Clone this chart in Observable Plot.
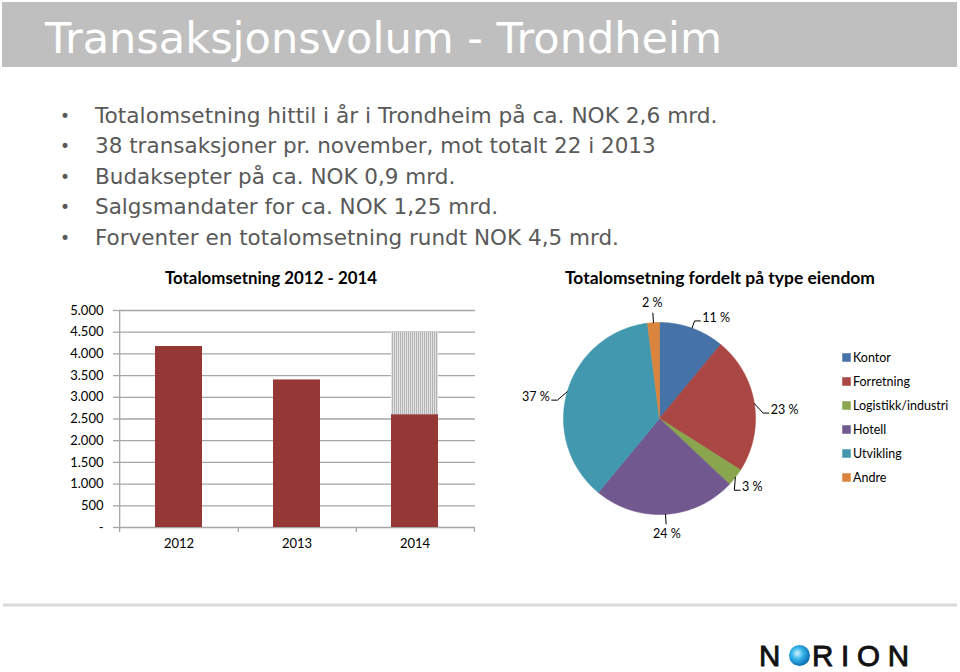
<!DOCTYPE html>
<html><head><meta charset="utf-8">
<script src="https://cdn.jsdelivr.net/npm/d3@7"></script>
<script src="https://cdn.jsdelivr.net/npm/@observablehq/plot@0.6"></script>
<style>
html,body{margin:0;padding:0;background:#fff;}
#page{position:relative;width:960px;height:672px;overflow:hidden;background:#fff;}
.abs{position:absolute;}
</style></head><body>
<div id="page">
<svg id="deco" class="abs" style="left:0;top:0" width="960" height="672"></svg>
<div id="bar" class="abs" style="left:0;top:290px"></div>
<div id="pie" class="abs" style="left:500px;top:290px"></div>
<div id="legend" class="abs" style="left:838px;top:345px"></div>
</div>
<script>
// ---------- data ----------
const pageTitle = "Transaksjonsvolum - Trondheim";
const bullets = [
  "Totalomsetning hittil i år i Trondheim på ca. NOK 2,6 mrd.",
  "38 transaksjoner pr. november, mot totalt 22 i 2013",
  "Budaksepter på ca. NOK 0,9 mrd.",
  "Salgsmandater for ca. NOK 1,25 mrd.",
  "Forventer en totalomsetning rundt NOK 4,5 mrd."
];
const barTitle = "Totalomsetning 2012 - 2014";
const pieTitle = "Totalomsetning fordelt på type eiendom";
const years = ["2012", "2013", "2014"];
const totals = [4170, 3400, 2600];
const forecastYear = "2014";
const forecastTotal = 4500;
const yTicks = [0, 500, 1000, 1500, 2000, 2500, 3000, 3500, 4000, 4500, 5000];
const yTickLabels = ["-", "500", "1.000", "1.500", "2.000", "2.500", "3.000", "3.500", "4.000", "4.500", "5.000"];
const segments = ["Kontor", "Forretning", "Logistikk/industri", "Hotell", "Utvikling", "Andre"];
const shares = [11, 23, 3, 24, 37, 2];
const segmentColors = ["#4572A7", "#AA4643", "#89A54E", "#71588F", "#4198AF", "#DB843D"];
const logoLeft = "N";
const logoRight = "RION";

const chartFont = "Lato, 'Open Sans', sans-serif";

// ---------- decoration (title, bullets, chart titles, logo) ----------
const deco = d3.select("#deco");
const defs = deco.append("defs");
const pat = defs.append("pattern").attr("id", "stripes").attr("patternUnits", "userSpaceOnUse")
  .attr("width", 2).attr("height", 4);
pat.append("rect").attr("width", 2).attr("height", 4).attr("fill", "#e4e4e4");
pat.append("rect").attr("width", 1).attr("height", 4).attr("fill", "#b2b2b2");
const grad = defs.append("radialGradient").attr("id", "globe").attr("cx", "40%").attr("cy", "40%").attr("r", "60%");
grad.append("stop").attr("offset", "0%").attr("stop-color", "#d8f4ff");
grad.append("stop").attr("offset", "45%").attr("stop-color", "#38b6ea");
grad.append("stop").attr("offset", "100%").attr("stop-color", "#0a6fb5");

deco.append("rect").attr("x", 2).attr("y", 2).attr("width", 955).attr("height", 65).attr("fill", "#bfbfbf");
deco.append("text").attr("x", 45).attr("y", 53).attr("fill", "#fff")
  .attr("font-family", "'DejaVu Sans'").attr("font-size", 42)
  .attr("textLength", 677).attr("lengthAdjust", "spacingAndGlyphs").text(pageTitle);

bullets.forEach((b, i) => {
  const y = 123 + 30.4 * i;
  deco.append("text").attr("x", 65).attr("y", y - 1).attr("text-anchor", "middle").attr("fill", "#595959")
    .attr("font-family", "'DejaVu Sans'").attr("font-size", 17).text("•");
  deco.append("text").attr("x", 95).attr("y", y).attr("fill", "#595959")
    .attr("font-family", "'DejaVu Sans'").attr("font-size", i === 0 ? 21.7 : 21.5).text(b);
});

deco.append("text").attr("x", 271).attr("y", 284).attr("text-anchor", "middle")
  .attr("font-family", chartFont).attr("font-weight", "bold").attr("font-size", 16.5)
  .attr("textLength", 212).attr("lengthAdjust", "spacingAndGlyphs").text(barTitle);
deco.append("text").attr("x", 720).attr("y", 284).attr("text-anchor", "middle")
  .attr("font-family", chartFont).attr("font-weight", "bold").attr("font-size", 16.5)
  .attr("textLength", 310).attr("lengthAdjust", "spacingAndGlyphs").text(pieTitle);

deco.append("rect").attr("x", 3).attr("y", 603.5).attr("width", 954).attr("height", 3).attr("fill", "#d9d9d9");
deco.append("text").attr("x", 759).attr("y", 665.5).attr("font-family", "'Liberation Sans', Arial")
  .attr("font-size", 29.5).attr("fill", "#111").attr("stroke", "#111").attr("stroke-width", 0.9).text(logoLeft);
deco.append("circle").attr("cx", 799.5).attr("cy", 655.5).attr("r", 10.5).attr("fill", "url(#globe)");
deco.append("text").attr("x", 812).attr("y", 665.5).attr("font-family", "'Liberation Sans', Arial")
  .attr("font-size", 29.5).attr("fill", "#111").attr("stroke", "#111").attr("stroke-width", 0.9)
  .attr("letter-spacing", 7.8).text(logoRight);

// ---------- bar chart ----------
const barData = years.map((year, i) => ({year, value: totals[i]}));
const forecastData = [{year: forecastYear, y1: totals[years.indexOf(forecastYear)], y2: forecastTotal}];
const BW = 490, BH = 270, BML = 119, BMR = 15, BMT = 20, BMB = 33;
const step = (BW - BML - BMR) / years.length;
const unitsPerPx = 5000 / (BH - BMT - BMB);
const gridColor = "#a6a6a6";

const barPlot = Plot.plot({
  width: BW, height: BH,
  marginLeft: BML, marginRight: BMR, marginTop: BMT, marginBottom: BMB,
  style: {fontFamily: chartFont, fontSize: "13px", color: "#000", background: "transparent"},
  x: {domain: years, paddingInner: 0.6, paddingOuter: 0.3, label: null},
  y: {domain: [0, 5000], label: null},
  marks: [
    Plot.ruleY(yTicks, {stroke: gridColor, strokeWidth: 1.3}),
    Plot.axisY({ticks: yTicks, tickFormat: d => yTickLabels[yTicks.indexOf(d)], tickSize: 6, tickPadding: 10,
      stroke: gridColor, strokeWidth: 1.3, fill: "#000", label: null, fontSize: 13}),
    Plot.axisX({tickSize: 0, tickPadding: 11, label: null, fontSize: 13, fill: "#000"}),
    Plot.ruleX([years[0]], {x: d => d, dx: -step / 2, y1: -5 * unitsPerPx, y2: 5000, stroke: gridColor, strokeWidth: 1.3}),
    Plot.ruleX(years, {x: d => d, dx: step / 2, y1: -5 * unitsPerPx, y2: 0, stroke: gridColor, strokeWidth: 1.3}),
    Plot.barY(barData, {x: "year", y: "value", fill: "#953735"}),
    Plot.barY(forecastData, {x: "year", y1: "y1", y2: "y2", fill: "url(#stripes)"})
  ]
});
document.getElementById("bar").appendChild(barPlot);

// ---------- pie chart ----------
const PW = 330, PH = 270, R = 96, PCX = 159, PCY = 128;
const arcs = d3.pie().sort(null).value(d => d)(shares);
const slicePts = [];
arcs.forEach((a, i) => {
  const name = segments[i];
  slicePts.push({name, x: 0, y: 0});
  const n = Math.max(2, Math.ceil((a.endAngle - a.startAngle) / (Math.PI / 360)));
  for (let k = 0; k <= n; k++) {
    const t = a.startAngle + (a.endAngle - a.startAngle) * k / n;
    slicePts.push({name, x: Math.sin(t), y: Math.cos(t)});
  }
  slicePts.push({name, x: 0, y: 0});
});

// leader lines and labels: start on the arc at the slice's mid angle, elbow just outside,
// side labels nudged slightly downward (as in best-fit placement), then a short horizontal tail
const leaderPts = [];
const labels = [];
const nudge = 6 * Math.PI / 180;
arcs.forEach((a, i) => {
  const name = segments[i];
  const m = (a.startAngle + a.endAngle) / 2;
  const s = Math.sin(m), c = Math.cos(m);
  const text = shares[i] + " %";
  leaderPts.push({name, x: s, y: c});
  if (Math.abs(s) > 0.25) {
    const dir = s > 0 ? 1 : -1;
    const e = Math.abs(c) < 0.9 ? m + dir * nudge : m;
    const p1 = {name, x: 1.08 * Math.sin(e), y: 1.08 * Math.cos(e)};
    leaderPts.push(p1);
    leaderPts.push({name, x: p1.x + dir * 0.06, y: p1.y});
    labels.push({text, side: dir > 0 ? "right" : "left", x: p1.x + dir * 0.08, y: p1.y + 0.03});
  } else {
    leaderPts.push({name, x: 1.1 * s, y: 1.1 * c});
    labels.push({text, side: "center", x: 1.21 * s, y: 1.21 * c});
  }
});

const piePlot = Plot.plot({
  width: PW, height: PH, margin: 0,
  style: {fontFamily: chartFont, fontSize: "12.5px", color: "#000", background: "transparent", overflow: "visible"},
  x: {domain: [-PCX / R, (PW - PCX) / R], axis: null},
  y: {domain: [-(PH - PCY) / R, PCY / R], axis: null},
  color: {domain: segments, range: segmentColors},
  marks: [
    Plot.line(slicePts, {x: "x", y: "y", z: "name", fill: "name", stroke: "name", strokeWidth: 0.6, curve: "linear"}),
    Plot.line(leaderPts, {x: "x", y: "y", z: "name", stroke: "#000", strokeWidth: 1, curve: "linear"}),
    Plot.text(labels.filter(d => d.side === "right"), {x: "x", y: "y", text: "text", textAnchor: "start", fill: "#000"}),
    Plot.text(labels.filter(d => d.side === "left"), {x: "x", y: "y", text: "text", textAnchor: "end", fill: "#000"}),
    Plot.text(labels.filter(d => d.side === "center"), {x: "x", y: "y", text: "text", textAnchor: "middle", fill: "#000"})
  ]
});
document.getElementById("pie").appendChild(piePlot);

// ---------- legend ----------
const legendPlot = Plot.plot({
  width: 122, height: 144, margin: 0,
  style: {fontFamily: chartFont, fontSize: "12.5px", color: "#000", background: "transparent", overflow: "visible"},
  y: {type: "point", domain: segments, range: [12, 132], padding: 0, axis: null},
  color: {domain: segments, range: segmentColors},
  marks: [
    Plot.dot(segments, {y: d => d, fill: d => d, symbol: "square", r: 4.8, frameAnchor: "left", dx: 8}),
    Plot.text(segments, {y: d => d, text: d => d, frameAnchor: "left", dx: 14.5, textAnchor: "start", fill: "#000"})
  ]
});
document.getElementById("legend").appendChild(legendPlot);
</script>
</body></html>
